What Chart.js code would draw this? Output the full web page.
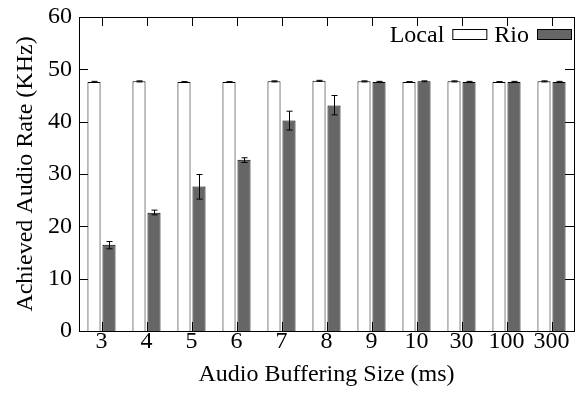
<!DOCTYPE html>
<html>
<head>
<meta charset="utf-8">
<script src="https://cdn.jsdelivr.net/npm/chart.js@4/dist/chart.umd.min.js"></script>
<style>
  html, body { margin: 0; padding: 0; background: #fff; }
  #wrap { width: 579px; height: 393px; }
</style>
</head>
<body>
<div id="wrap"><canvas id="rateChart" width="579" height="393"></canvas></div>
<script>
// Buffer sizes (ms) and achieved rates (KHz)
const bufferSizes = ["3", "4", "5", "6", "7", "8", "9", "10", "30", "100", "300"];
const localRate = [47.6, 47.7, 47.6, 47.6, 47.7, 47.8, 47.7, 47.6, 47.7, 47.6, 47.7];
const localErr  = [0.1, 0.1, 0.05, 0.05, 0.1, 0.1, 0.1, 0.05, 0.1, 0.05, 0.1];
const rioRate   = [16.5, 22.6, 27.6, 32.7, 40.2, 43.1, 47.6, 47.7, 47.6, 47.6, 47.6];
const rioLow    = [15.7, 22.2, 25.2, 32.2, 38.4, 41.3, 47.5, 47.6, 47.5, 47.5, 47.5];
const rioHigh   = [17.1, 23.1, 29.9, 33.1, 42.0, 45.0, 47.7, 47.8, 47.7, 47.7, 47.7];
const yTicks = [0, 10, 20, 30, 40, 50, 60];

const serif = "'Liberation Serif', 'DejaVu Serif', serif";
const fontSize = 24;

// whiskers on top of every bar
const errorBars = {
  id: "errorBars",
  afterDatasetsDraw(chart) {
    const ctx = chart.ctx;
    const y = chart.scales.y;
    const ranges = [
      localRate.map((v, i) => [v - localErr[i], v + localErr[i]]),
      rioLow.map((v, i) => [v, rioHigh[i]])
    ];
    ctx.save();
    ctx.strokeStyle = "#000";
    ctx.lineWidth = 1;
    ranges.forEach((r, d) => {
      chart.getDatasetMeta(d).data.forEach((bar, i) => {
        const x = Math.round(bar.x) + 0.5;
        const lo = y.getPixelForValue(r[i][0]);
        const hi = y.getPixelForValue(r[i][1]);
        ctx.beginPath();
        ctx.moveTo(x, lo); ctx.lineTo(x, hi);
        ctx.moveTo(x - 3, lo); ctx.lineTo(x + 3, lo);
        ctx.moveTo(x - 3, hi); ctx.lineTo(x + 3, hi);
        ctx.stroke();
      });
    });
    ctx.restore();
  }
};

// frame with inward, mirrored ticks
const frameTicks = {
  id: "frameTicks",
  afterDraw(chart) {
    const ctx = chart.ctx;
    const a = chart.chartArea;
    const xs = chart.scales.x, ys = chart.scales.y;
    ctx.save();
    ctx.strokeStyle = "#000";
    ctx.lineWidth = 1;
    ctx.strokeRect(Math.round(a.left) + 0.5, Math.round(a.top) + 0.5,
                   Math.round(a.right - a.left), Math.round(a.bottom - a.top));
    ctx.beginPath();
    yTicks.forEach(v => {
      const py = Math.round(ys.getPixelForValue(v)) + 0.5;
      ctx.moveTo(a.left, py); ctx.lineTo(a.left + 9, py);
      ctx.moveTo(a.right, py); ctx.lineTo(a.right - 9, py);
    });
    bufferSizes.forEach((_, i) => {
      const px = Math.round(xs.getPixelForValue(i)) + 0.5;
      ctx.moveTo(px, a.bottom); ctx.lineTo(px, a.bottom - 9);
      ctx.moveTo(px, a.top); ctx.lineTo(px, a.top + 9);
    });
    ctx.stroke();
    ctx.restore();
  }
};

// key in the top right corner: label first, swatch after it
const keyBox = {
  id: "keyBox",
  afterDraw(chart) {
    const ctx = chart.ctx;
    const a = chart.chartArea;
    const sw = 34, sh = 10, gap = 8;
    let right = a.right - 3;
    const midY = a.top + 17;
    ctx.save();
    ctx.font = fontSize + "px " + serif;
    ctx.textBaseline = "middle";
    ctx.textAlign = "right";
    const sets = chart.data.datasets.slice().reverse();
    sets.forEach(ds => {
      const bx = right - sw;
      ctx.fillStyle = ds.backgroundColor;
      ctx.fillRect(bx, Math.round(midY - sh / 2), sw, sh);
      ctx.strokeStyle = "#000";
      ctx.lineWidth = 1;
      ctx.strokeRect(bx + 0.5, Math.round(midY - sh / 2) + 0.5, sw, sh);
      ctx.fillStyle = "#000";
      ctx.fillText(ds.label, bx - gap, midY + 2);
      right = bx - gap - ctx.measureText(ds.label).width - gap;
    });
    ctx.restore();
  }
};

new Chart(document.getElementById("rateChart"), {
  type: "bar",
  data: {
    labels: bufferSizes,
    datasets: [
      {
        label: "Local",
        data: localRate,
        backgroundColor: "#ffffff",
        borderColor: "#000000",
        borderWidth: 1
      },
      {
        label: "Rio",
        data: rioRate,
        backgroundColor: "#666666",
        borderColor: "#000000",
        borderWidth: 1
      }
    ]
  },
  options: {
    responsive: false,
    animation: false,
    events: [],
    layout: { padding: { top: 17, right: 5, left: 14 } },
    datasets: { bar: { categoryPercentage: 0.667, barPercentage: 0.87 } },
    plugins: {
      tooltip: { enabled: false },
      legend: { display: false }
    },
    scales: {
      x: {
        grid: { display: false, drawTicks: false },
        border: { display: false },
        ticks: { color: "#000", font: { family: serif, size: fontSize, lineHeight: 1 }, padding: -1, maxRotation: 0, autoSkip: false },
        title: {
          display: true,
          text: "Audio Buffering Size (ms)",
          color: "#000",
          font: { family: serif, size: fontSize, lineHeight: 1 },
          padding: { top: 0, bottom: 6 }
        },
        afterFit(scale) {
          scale.height = 62;
          scale.paddingLeft = 0;
          scale.paddingRight = 0;
        }
      },
      y: {
        min: 0,
        max: 60,
        grid: { display: false, drawTicks: false },
        border: { display: false },
        afterBuildTicks(scale) { scale.ticks = yTicks.map(v => ({ value: v })); },
        ticks: { color: "#000", font: { family: serif, size: fontSize }, padding: 7 },
        title: {
          display: true,
          text: "Achieved Audio Rate (KHz)",
          color: "#000",
          font: { family: serif, size: fontSize, lineHeight: 1 },
          padding: { top: 0, bottom: 0 }
        },
        afterFit(scale) {
          scale.width = 65;
          scale.paddingTop = 0;
          scale.paddingBottom = 0;
        }
      }
    }
  },
  plugins: [errorBars, frameTicks, keyBox]
});
</script>
</body>
</html>
